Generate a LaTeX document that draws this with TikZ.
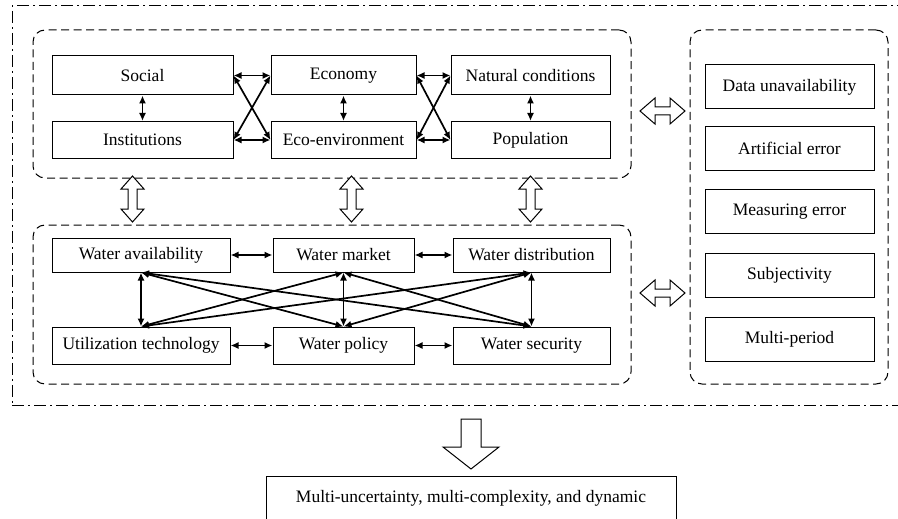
\documentclass[tikz,border=0pt]{standalone}
\usepackage{fontspec}
\setmainfont{Liberation Serif}
\usetikzlibrary{arrows.meta}
\newcommand\vdarrow[3]{%
  \draw[hollow] (#1,#2) -- ++(11.5,13) -- ++(-7,0) -- (#1+4.5,#3-13) -- ++(7,0) -- (#1,#3)
    -- ++(-11.5,-13) -- ++(7,0) -- (#1-4.5,#2+13) -- ++(-7,0) -- cycle;}
\newcommand\hdarrow[3]{%
  \draw[hollow] (#2,#1) -- ++(15,-13) -- ++(0,9) -- (#3-15,#1-4) -- ++(0,-9) -- (#3,#1)
    -- ++(-15,13) -- ++(0,-9) -- (#2+15,#1+4) -- ++(0,9) -- cycle;}
\begin{document}
\begin{tikzpicture}[x=1pt,y=-1pt,
  box/.style={draw, line width=1pt, inner sep=0pt, font=\fontsize{17.5}{20}\selectfont},
  grp/.style={draw, dash pattern=on 8pt off 4.5pt, rounded corners=12pt, line width=1pt, inner sep=0pt},
  outerbox/.style={draw, dash pattern=on 12pt off 4pt on 2pt off 4pt, line width=1pt, inner sep=0pt},
  biarr/.style={{Latex[length=8pt,width=7pt]}-{Latex[length=8pt,width=7pt]}, line width=1.7pt},
  hollow/.style={draw, line width=1pt, fill=white, line join=miter}]
\useasboundingbox (0,0) rectangle (898,519);
\clip (0,0) rectangle (898,519);
\fill[white] (0,0) rectangle (898,519);

% outer dash-dot frame
\node[outerbox, minimum width=898pt, minimum height=399pt] (outer) at (461,205.5) {};

% groups
\node[grp, minimum width=598pt, minimum height=148pt] (topgrp) at (332,104) {};
\node[grp, minimum width=598pt, minimum height=159pt] (botgrp) at (332,304.5) {};
\node[grp, minimum width=198pt, minimum height=354pt] (rgrp) at (789,207) {};

% top boxes
\node[box, minimum width=181pt, minimum height=39pt] (soc) at (142.5,75.5) {Social};
\node[box, minimum width=145pt, minimum height=39pt] (eco) at (343.5,75.5) {Economy};
\node[box, minimum width=159pt, minimum height=39pt] (nat) at (530.5,75.5) {Natural conditions};
\node[box, minimum width=181pt, minimum height=37pt] (ins) at (142.5,140) {Institutions};
\node[box, minimum width=145pt, minimum height=37pt] (env) at (343.5,140) {Eco-environment};
\node[box, minimum width=159pt, minimum height=37pt] (pop) at (530.5,140) {Population};

% bottom boxes
\node[box, minimum width=178pt, minimum height=34pt] (wa) at (141,255) {Water availability};
\node[box, minimum width=141pt, minimum height=34pt] (wm) at (343.5,255) {Water market};
\node[box, minimum width=157pt, minimum height=34pt] (wd) at (531.5,255) {Water distribution};
\node[box, minimum width=178pt, minimum height=37pt] (ut) at (141,345.5) {Utilization technology};
\node[box, minimum width=141pt, minimum height=37pt] (wp) at (343.5,345.5) {Water policy};
\node[box, minimum width=157pt, minimum height=37pt] (ws) at (531.5,345.5) {Water security};

% right boxes
\node[box, minimum width=169pt, minimum height=44pt] (du) at (789.5,87) {Data unavailability};
\node[box, minimum width=169pt, minimum height=44pt] (ae) at (789.5,148.5) {Artificial error};
\node[box, minimum width=169pt, minimum height=44pt] (me) at (789.5,211.5) {Measuring error};
\node[box, minimum width=169pt, minimum height=44pt] (sj) at (789.5,275.5) {Subjectivity};
\node[box, minimum width=169pt, minimum height=44pt] (mp) at (789.5,339.5) {Multi-period};

% result box
\node[box, minimum width=410pt, minimum height=50pt, anchor=north] (res) at (471,476) {};
\node[font=\fontsize{17.5}{20}\selectfont] (restext) at (471,498) {Multi-uncertainty, multi-complexity, and dynamic};

% top section arrows
\draw[biarr] (soc.south) -- (ins.north);
\draw[biarr] (eco.south) -- (env.north);
\draw[biarr] (nat.south) -- (pop.north);
\draw[biarr] (soc.east) -- (eco.west);
\draw[biarr] (ins.east) -- (env.west);
\draw[biarr] (soc.east) -- (env.west);
\draw[biarr] (ins.east) -- (eco.west);
\draw[biarr] (eco.east) -- (nat.west);
\draw[biarr] (env.east) -- (pop.west);
\draw[biarr] (eco.east) -- (pop.west);
\draw[biarr] (env.east) -- (nat.west);

% bottom section arrows
\draw[biarr] (wa.east) -- (wm.west);
\draw[biarr] (wm.east) -- (wd.west);
\draw[biarr] (ut.east) -- (wp.west);
\draw[biarr] (wp.east) -- (ws.west);
\foreach \t in {wa,wm,wd}{
  \foreach \b in {ut,wp,ws}{
    \draw[biarr] (\t.south) -- (\b.north);
  }
}

% hollow arrows
\vdarrow{132.5}{176}{222}
\vdarrow{351.5}{176}{222}
\vdarrow{530.5}{176}{222}
\hdarrow{111}{640}{685}
\hdarrow{293}{640}{685}
\draw[hollow] (461,419) -- (481,419) -- (481,447) -- (499,447) -- (471,469) -- (443,447) -- (461,447) -- cycle;
\end{tikzpicture}
\end{document}
